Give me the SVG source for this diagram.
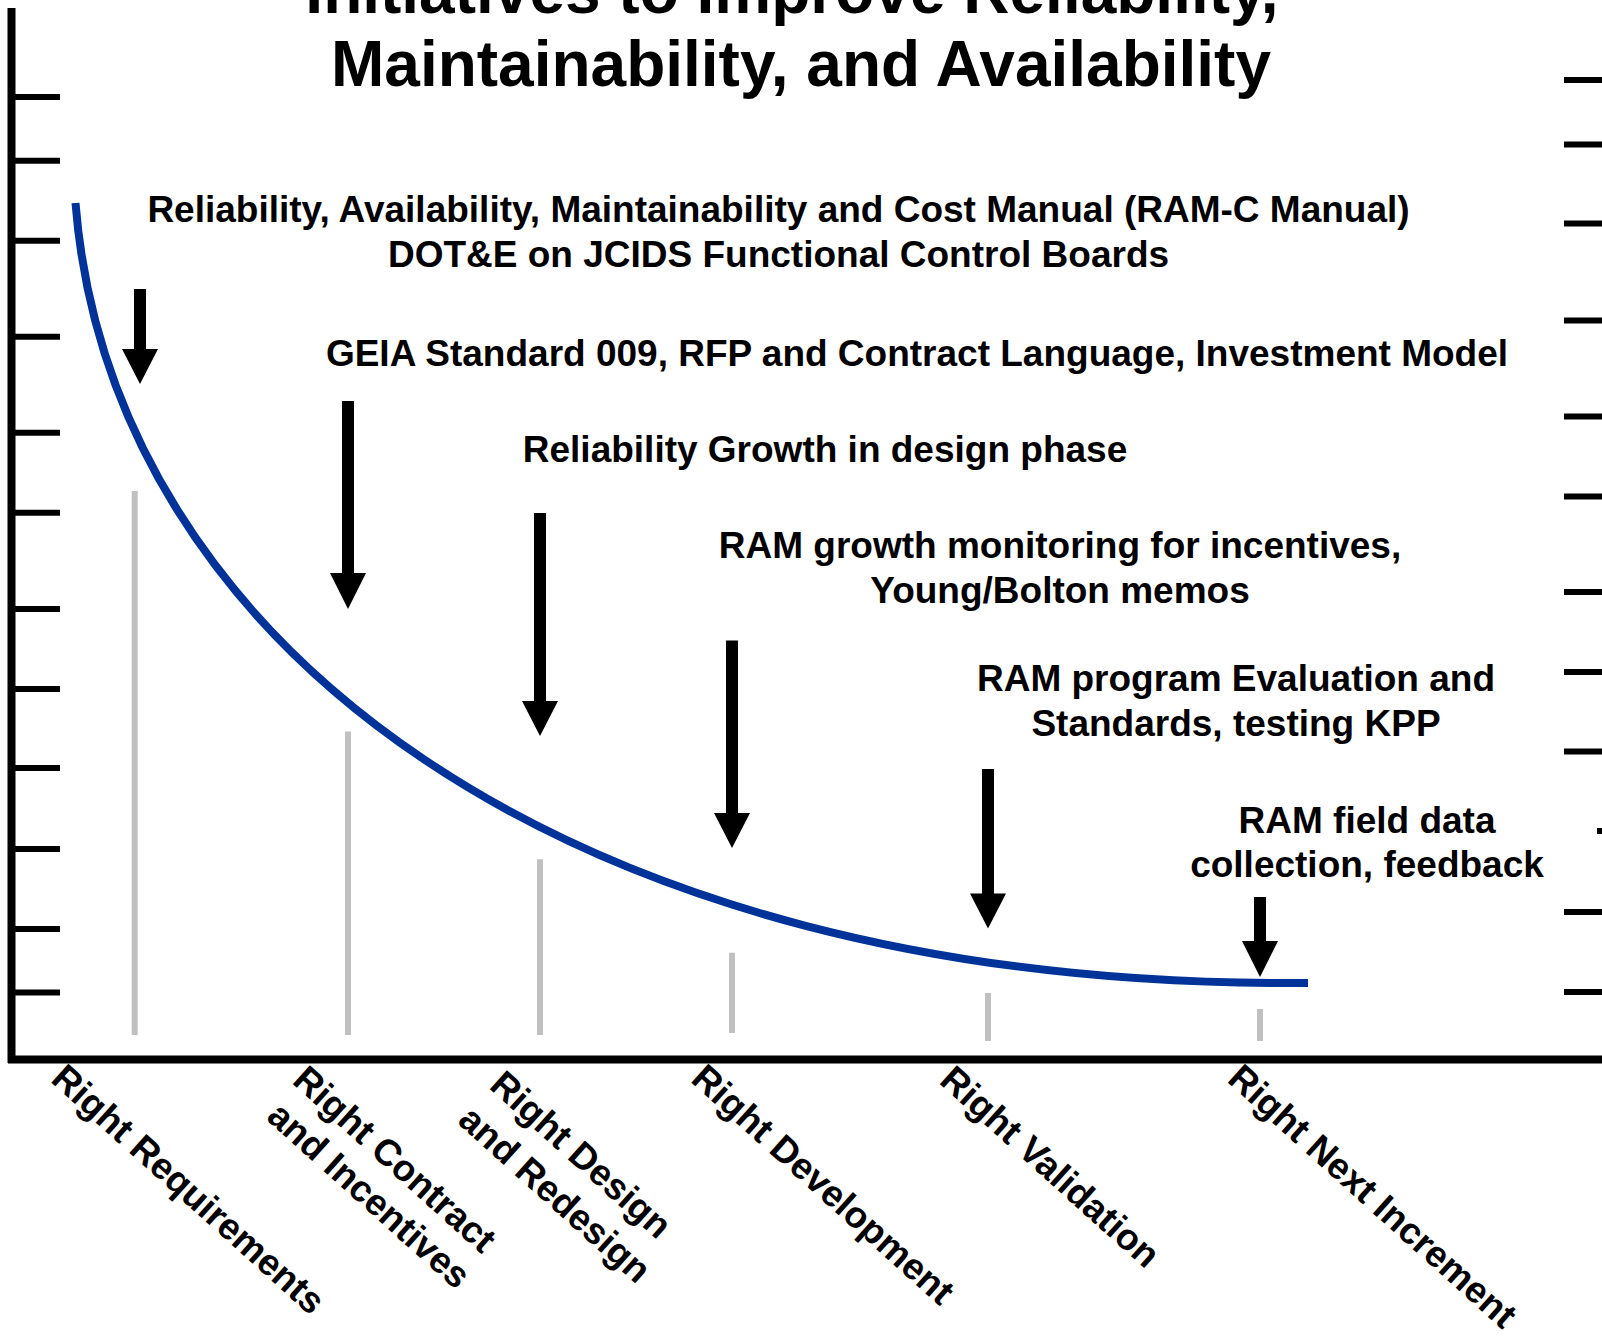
<svg xmlns="http://www.w3.org/2000/svg" width="1602" height="1341" viewBox="0 0 1602 1341">
<style>
.title{font-family:"Liberation Sans",Arial,sans-serif;font-weight:bold;font-size:64px;fill:#000;text-anchor:middle}
.note{font-family:"Liberation Sans",Arial,sans-serif;font-weight:bold;font-size:37px;fill:#000;text-anchor:middle}
.lab{font-family:"Liberation Sans",Arial,sans-serif;font-weight:bold;font-size:37px;fill:#000}
.axis{stroke:#000;stroke-width:8;fill:none}
.tick{stroke:#000;stroke-width:6;fill:none}
.gray{stroke:#c0c0c0;stroke-width:6;fill:none}
.curve{stroke:#003399;stroke-width:8;fill:none}
.arrow{fill:#000;stroke:none}
</style>
<rect width="1602" height="1341" fill="#fff"/>
<g id="title">
<text class="title" x="792" y="13">Initiatives to Improve Reliability,</text>
<text class="title" x="801" y="86">Maintainability, and Availability</text>
</g>
<g id="axes">
<line class="axis" x1="11.5" y1="8" x2="11.5" y2="1063"/>
<line class="axis" x1="8" y1="1059.5" x2="1602" y2="1059.5"/>
</g>
<g id="left-ticks">
<line class="tick" x1="15" y1="97" x2="60" y2="97"/>
<line class="tick" x1="15" y1="160.7" x2="60" y2="160.7"/>
<line class="tick" x1="15" y1="240.7" x2="60" y2="240.7"/>
<line class="tick" x1="15" y1="336.7" x2="60" y2="336.7"/>
<line class="tick" x1="15" y1="432.7" x2="60" y2="432.7"/>
<line class="tick" x1="15" y1="512.7" x2="60" y2="512.7"/>
<line class="tick" x1="15" y1="609" x2="60" y2="609"/>
<line class="tick" x1="15" y1="689" x2="60" y2="689"/>
<line class="tick" x1="15" y1="768" x2="60" y2="768"/>
<line class="tick" x1="15" y1="849" x2="60" y2="849"/>
<line class="tick" x1="15" y1="929" x2="60" y2="929"/>
<line class="tick" x1="15" y1="992.5" x2="60" y2="992.5"/>
</g>
<g id="right-ticks">
<line class="tick" x1="1564" y1="80" x2="1602" y2="80"/>
<line class="tick" x1="1564" y1="144.5" x2="1602" y2="144.5"/>
<line class="tick" x1="1564" y1="223.5" x2="1602" y2="223.5"/>
<line class="tick" x1="1564" y1="320.5" x2="1602" y2="320.5"/>
<line class="tick" x1="1564" y1="416.5" x2="1602" y2="416.5"/>
<line class="tick" x1="1564" y1="496.5" x2="1602" y2="496.5"/>
<line class="tick" x1="1564" y1="592" x2="1602" y2="592"/>
<line class="tick" x1="1564" y1="672" x2="1602" y2="672"/>
<line class="tick" x1="1564" y1="751.5" x2="1602" y2="751.5"/>
<line class="tick" x1="1597" y1="831" x2="1602" y2="831"/>
<line class="tick" x1="1564" y1="912" x2="1602" y2="912"/>
<line class="tick" x1="1564" y1="992" x2="1602" y2="992"/>
</g>
<g id="phase-markers">
<line class="gray" x1="134.7" y1="491" x2="134.7" y2="1035"/>
<line class="gray" x1="348" y1="731.5" x2="348" y2="1035"/>
<line class="gray" x1="540" y1="859.3" x2="540" y2="1035"/>
<line class="gray" x1="732" y1="952.7" x2="732" y2="1033"/>
<line class="gray" x1="988" y1="993" x2="988" y2="1041"/>
<line class="gray" x1="1260" y1="1009" x2="1260" y2="1041"/>
</g>
<g id="curve">
<path class="curve" d="M75.5,203 C110,640 560,990 1308,983"/>
</g>
<g id="connectors">
<path class="arrow" d="M134,289 H146 V349 H158 L140,384 L122,349 H134 Z"/>
<path class="arrow" d="M342,401 H354 V573 H366 L348,609 L330,573 H342 Z"/>
<path class="arrow" d="M534,513 H546 V701 H558 L540,736 L522,701 H534 Z"/>
<path class="arrow" d="M726,640.5 H738 V813 H750 L732,848 L714,813 H726 Z"/>
<path class="arrow" d="M982,769 H994 V893.5 H1006 L988,928.5 L970,893.5 H982 Z"/>
<path class="arrow" d="M1254,897 H1266 V941 H1278 L1260,977 L1242,941 H1254 Z"/>
</g>
<g id="note-ramc">
<text class="note" x="778.5" y="222">Reliability, Availability, Maintainability and Cost Manual (RAM-C Manual)</text>
<text class="note" x="778.5" y="267">DOT&amp;E on JCIDS Functional Control Boards</text>
</g>
<g id="note-geia">
<text class="note" x="917" y="366">GEIA Standard 009, RFP and Contract Language, Investment Model</text>
</g>
<g id="note-growth">
<text class="note" x="825" y="462">Reliability Growth in design phase</text>
</g>
<g id="note-monitoring">
<text class="note" x="1060" y="558">RAM growth monitoring for incentives,</text>
<text class="note" x="1060" y="603">Young/Bolton memos</text>
</g>
<g id="note-evaluation">
<text class="note" x="1236" y="691">RAM program Evaluation and</text>
<text class="note" x="1236" y="736">Standards, testing KPP</text>
</g>
<g id="note-field">
<text class="note" x="1367" y="833">RAM field data</text>
<text class="note" x="1367" y="877">collection, feedback</text>
</g>
<g id="label-requirements" transform="translate(49.5,1081) rotate(42)">
<text class="lab" x="0" y="0">Right Requirements</text>
</g>
<g id="label-contract" transform="translate(291,1082.6) rotate(42)">
<text class="lab" x="0" y="0">Right Contract</text>
<text class="lab" x="5" y="44">and Incentives</text>
</g>
<g id="label-design" transform="translate(488,1087.6) rotate(42)">
<text class="lab" x="0" y="0">Right Design</text>
<text class="lab" x="0" y="47">and Redesign</text>
</g>
<g id="label-development" transform="translate(689.5,1081) rotate(42)">
<text class="lab" x="0" y="0">Right Development</text>
</g>
<g id="label-validation" transform="translate(938,1082.6) rotate(42)">
<text class="lab" x="0" y="0">Right Validation</text>
</g>
<g id="label-increment" transform="translate(1226,1081) rotate(42)">
<text class="lab" x="0" y="0">Right Next Increment</text>
</g>
</svg>
